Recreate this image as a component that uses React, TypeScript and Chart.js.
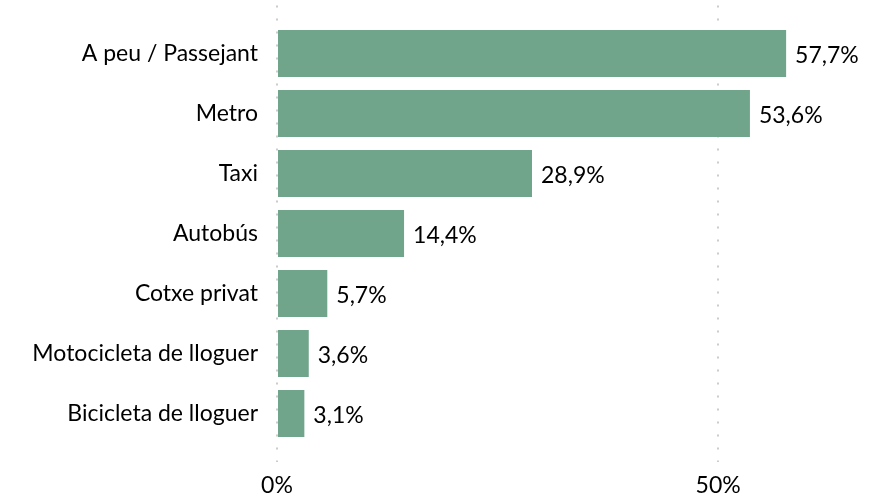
import React, { useEffect, useRef } from 'react';
import { Chart, registerables } from 'chart.js';
Chart.register(...registerables);

const categories = [
  'A peu / Passejant',
  'Metro',
  'Taxi',
  'Autobús',
  'Cotxe privat',
  'Motocicleta de lloguer',
  'Bicicleta de lloguer',
];
const values = [57.7, 53.6, 28.9, 14.4, 5.7, 3.6, 3.1];
const xTicks = [0, 50];

const FONT = 'Lato';
const FONT_SIZE = 23;

export default function App() {
  const ref = useRef<HTMLCanvasElement>(null);
  useEffect(() => {
    const labelPlugin = {
      id: 'valueLabels',
      afterDatasetsDraw(chart: any) {
        const ctx = chart.ctx;
        const meta = chart.getDatasetMeta(0);
        ctx.save();
        ctx.font = `${FONT_SIZE}px ${FONT}`;
        ctx.fillStyle = '#000';
        ctx.textAlign = 'left';
        ctx.textBaseline = 'middle';
        meta.data.forEach((el: any, i: number) => {
          ctx.fillText(values[i].toFixed(1).replace('.', ',') + '%', el.x + 9, el.y + 2);
        });
        ctx.restore();
      },
    };
    const chart = new Chart(ref.current as HTMLCanvasElement, {
      type: 'bar',
      data: {
        datasets: [
          {
            data: categories.map((_, i) => ({ x: values[i], y: i })),
            backgroundColor: '#70a58c',
            barPercentage: 0.78,
            categoryPercentage: 1,
          },
        ],
      },
      options: {
        indexAxis: 'y',
        animation: false,
        responsive: false,
        layout: { padding: { top: 5.5, right: 6, left: 0, bottom: 0 } },
        plugins: { legend: { display: false }, tooltip: { enabled: false } },
        scales: {
          x: {
            type: 'linear',
            min: 0,
            max: 68,
            position: 'bottom',
            offset: false,
            grid: { color: '#cccccc', lineWidth: 2, drawTicks: false, offset: false },
            border: { display: false, dash: [2, 11] },
            ticks: {
              font: { family: FONT, size: FONT_SIZE },
              color: '#000',
              padding: 10,
              callback: (v: any) => v + '%',
            },
            afterBuildTicks: (s: any) => {
              s.ticks = xTicks.map((v) => ({ value: v }));
            },
            afterFit: (s: any) => {
              s.height = 36.5;
              s.paddingLeft = 0;
              s.paddingRight = 0;
              s.paddingTop = 0;
              s.paddingBottom = 0;
            },
          },
          y: {
            type: 'linear',
            min: -0.8,
            max: 6.8,
            reverse: true,
            offset: false,
            grid: { display: false, drawTicks: false, offset: false },
            border: { display: false },
            ticks: {
              font: { family: FONT, size: FONT_SIZE },
              color: '#000',
              padding: 19,
              callback: (v: any) => categories[v] ?? '',
            },
            afterBuildTicks: (s: any) => {
              s.ticks = categories.map((_, i) => ({ value: i }));
            },
            afterFit: (s: any) => {
              s.width = 277;
              s.paddingTop = 0;
              s.paddingBottom = 0;
              s.paddingLeft = 0;
              s.paddingRight = 0;
            },
          },
        },
      } as any,
      plugins: [labelPlugin],
    });
    return () => chart.destroy();
  }, []);
  return (
    <div style={{ position: 'fixed', left: 0, top: 0, width: 883, height: 498 }}>
      <canvas ref={ref} width={883} height={498} />
    </div>
  );
}
